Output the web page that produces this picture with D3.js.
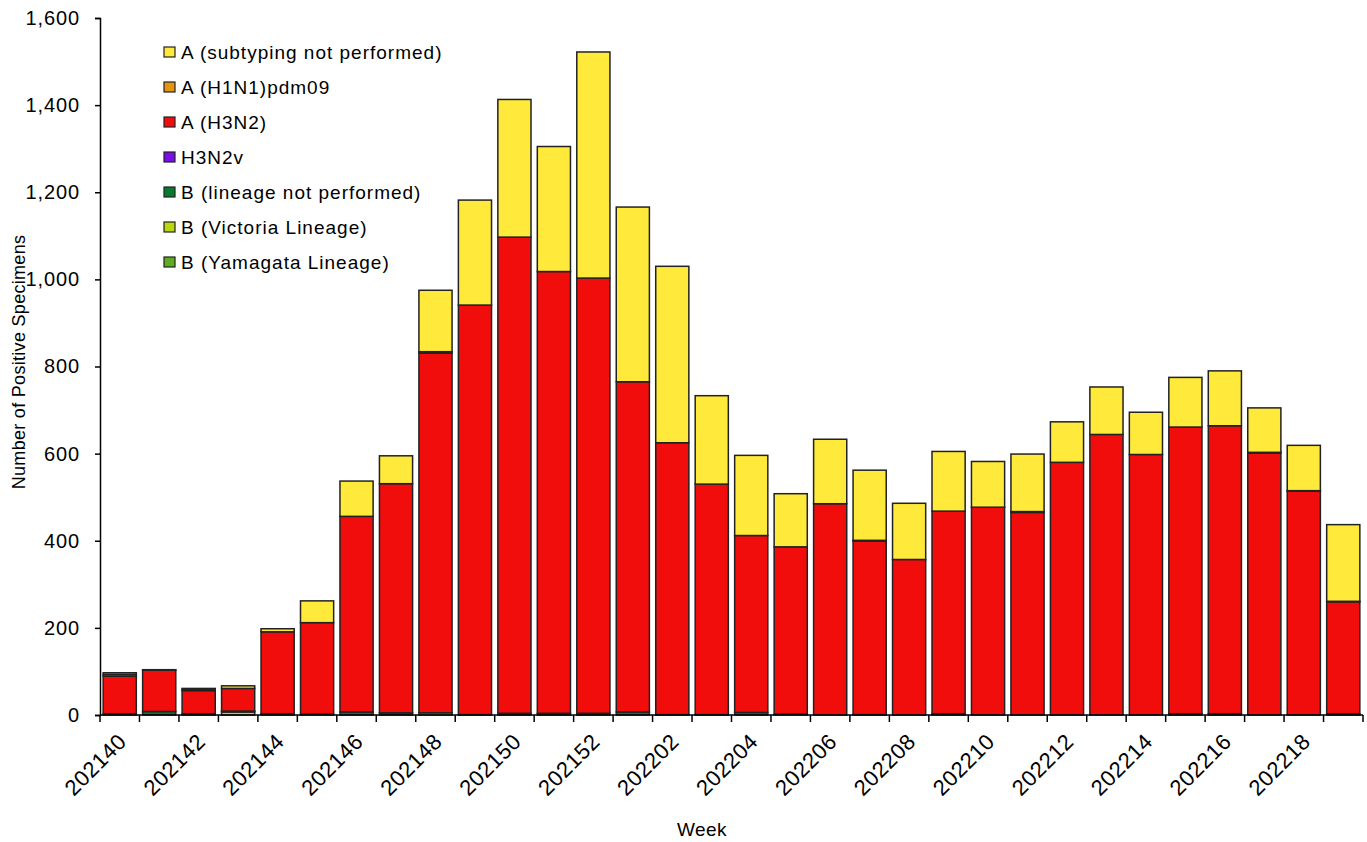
<!DOCTYPE html>
<html><head><meta charset="utf-8">
<script src="https://cdn.jsdelivr.net/npm/d3@7"></script>
<style>
body{margin:0;background:#fff;}
svg{display:block;font-family:"Liberation Sans",Arial,sans-serif;}
</style></head>
<body>
<svg id="chart" width="1367" height="842"></svg>
<script>
const weeks = ["202140","202141","202142","202143","202144","202145","202146","202147","202148","202149","202150","202151","202152",
"202201","202202","202203","202204","202205","202206","202207","202208","202209","202210","202211","202212","202213","202214","202215","202216","202217","202218","202219"];
const bYamagata = [0,0,0,0,0,0,0,0,0,0,0,0,0,0,0,0,0,0,0,0,0,0,0,0,0,0,0,0,0,0,0,0];
const bVictoria = [3,0,3,7,3,0,0,0,5,0,0,0,0,0,0,0,0,0,0,0,0,0,0,0,0,0,0,0,0,0,0,0];
const bLineageNP = [0,8,0,2,0,2,7,5,0,1,4,4,4,7,1,1,6,2,0,1,0,3,0,0,0,0,0,3,3,0,0,3];
const h3n2v = [0,0,0,0,0,0,0,0,0,0,0,0,0,0,0,0,0,0,0,0,0,0,0,0,0,0,0,0,0,0,0,0];
const aH3N2 = [86,95,53,52,188,210,449,526,826,940,1093,1014,999,758,624,529,406,384,485,398,357,465,477,465,580,644,598,658,661,601,514,257];
const aH1N1 = [4,0,3,0,0,0,0,0,3,0,0,0,0,0,0,0,0,0,0,2,0,0,0,2,0,0,0,0,0,2,1,1];
const aUnsub = [4,1,2,6,7,50,81,64,141,241,316,287,519,401,405,203,184,122,148,161,129,137,105,132,93,109,97,114,126,102,104,176];
const yTicks = [0,200,400,600,800,1000,1200,1400,1600];
const xLabels = ["202140","202142","202144","202146","202148","202150","202152","202202","202204","202206","202208","202210","202212","202214","202216","202218"];

const series = [
  {name:"B (Yamagata Lineage)", values:bYamagata, color:"#5fad1e"},
  {name:"B (Victoria Lineage)", values:bVictoria, color:"#bcd70c"},
  {name:"B (lineage not performed)", values:bLineageNP, color:"#087a2f"},
  {name:"H3N2v", values:h3n2v, color:"#7a0de8"},
  {name:"A (H3N2)", values:aH3N2, color:"#f20d0d"},
  {name:"A (H1N1)pdm09", values:aH1N1, color:"#e59410"},
  {name:"A (subtyping not performed)", values:aUnsub, color:"#ffe93a"}
];

const svg = d3.select("#chart");
const m = {left:100};
const x = d3.scaleBand().domain(weeks).range([m.left, 1363]).paddingInner(0.16).paddingOuter(0.08);
const y = d3.scaleLinear().domain([0,1600]).range([715, 18]);

const rows = weeks.map((w,i)=>{ const o={week:w}; series.forEach(s=>o[s.name]=s.values[i]); return o;});
const stack = d3.stack().keys(series.map(s=>s.name))(rows);

const g = svg.append("g");
stack.forEach((layer,li)=>{
  g.selectAll(null).data(layer.filter(d=>d[1]-d[0]>0)).enter().append("rect")
    .attr("x", d=>x(d.data.week))
    .attr("width", x.bandwidth())
    .attr("y", d=>y(d[1]))
    .attr("height", d=>y(d[0])-y(d[1]))
    .attr("fill", series[li].color)
    .attr("stroke", "#222")
    .attr("stroke-width", 1.5);
});

// y axis
const yAxis = d3.axisLeft(y).tickValues(yTicks).tickSize(5).tickPadding(15).tickFormat(d3.format(","));
const ya = svg.append("g").attr("transform",`translate(${m.left},0)`).call(yAxis);
ya.select(".domain").attr("stroke","#000").attr("stroke-width",1.5);
ya.selectAll(".tick line").attr("stroke","#000").attr("stroke-width",1.5);
ya.selectAll(".tick text").attr("font-size",20).attr("letter-spacing","0.9px").attr("fill","#000")
  .attr("font-family","Liberation Sans, Arial, sans-serif");

// x axis line and ticks at band edges
const step = x.step();
svg.append("line").attr("x1",m.left).attr("x2",1363).attr("y1",715).attr("y2",715).attr("stroke","#000").attr("stroke-width",1.5);
const edges = d3.range(weeks.length+1).map(i=> i===0 ? m.left : x(weeks[i-1]) + x.bandwidth() + step*x.paddingInner()/2);
svg.selectAll(null).data(edges).enter().append("line")
  .attr("x1",d=>d).attr("x2",d=>d).attr("y1",715).attr("y2",722)
  .attr("stroke","#000").attr("stroke-width",1.5);

svg.selectAll(null).data(xLabels).enter().append("text")
  .attr("transform", d=>`translate(${x(d)+x.bandwidth()/2+8},${743}) rotate(-45)`)
  .attr("text-anchor","end")
  .attr("font-size",22)
  .attr("letter-spacing","0.5px")
  .attr("fill","#000")
  .text(d=>d);

// axis titles
svg.append("text").attr("x",702).attr("y",836).attr("text-anchor","middle").attr("font-size",19).attr("letter-spacing","0.5px").text("Week");
svg.append("text").attr("transform","translate(25,362) rotate(-90)").attr("text-anchor","middle").attr("font-size",18).attr("letter-spacing","0.3px").text("Number of Positive Specimens");

// legend
const legendItems = series.slice().reverse();
const lg = svg.append("g");
legendItems.forEach((s,i)=>{
  const yy = 52 + i*35;
  lg.append("rect").attr("x",164).attr("y",yy-5).attr("width",11).attr("height",10)
    .attr("fill",s.color).attr("stroke","#222").attr("stroke-width",1.2);
  lg.append("text").attr("x",181).attr("y",yy+7).attr("font-size",19).attr("letter-spacing","1px").attr("fill","#000").text(s.name);
});
</script>
</body></html>
